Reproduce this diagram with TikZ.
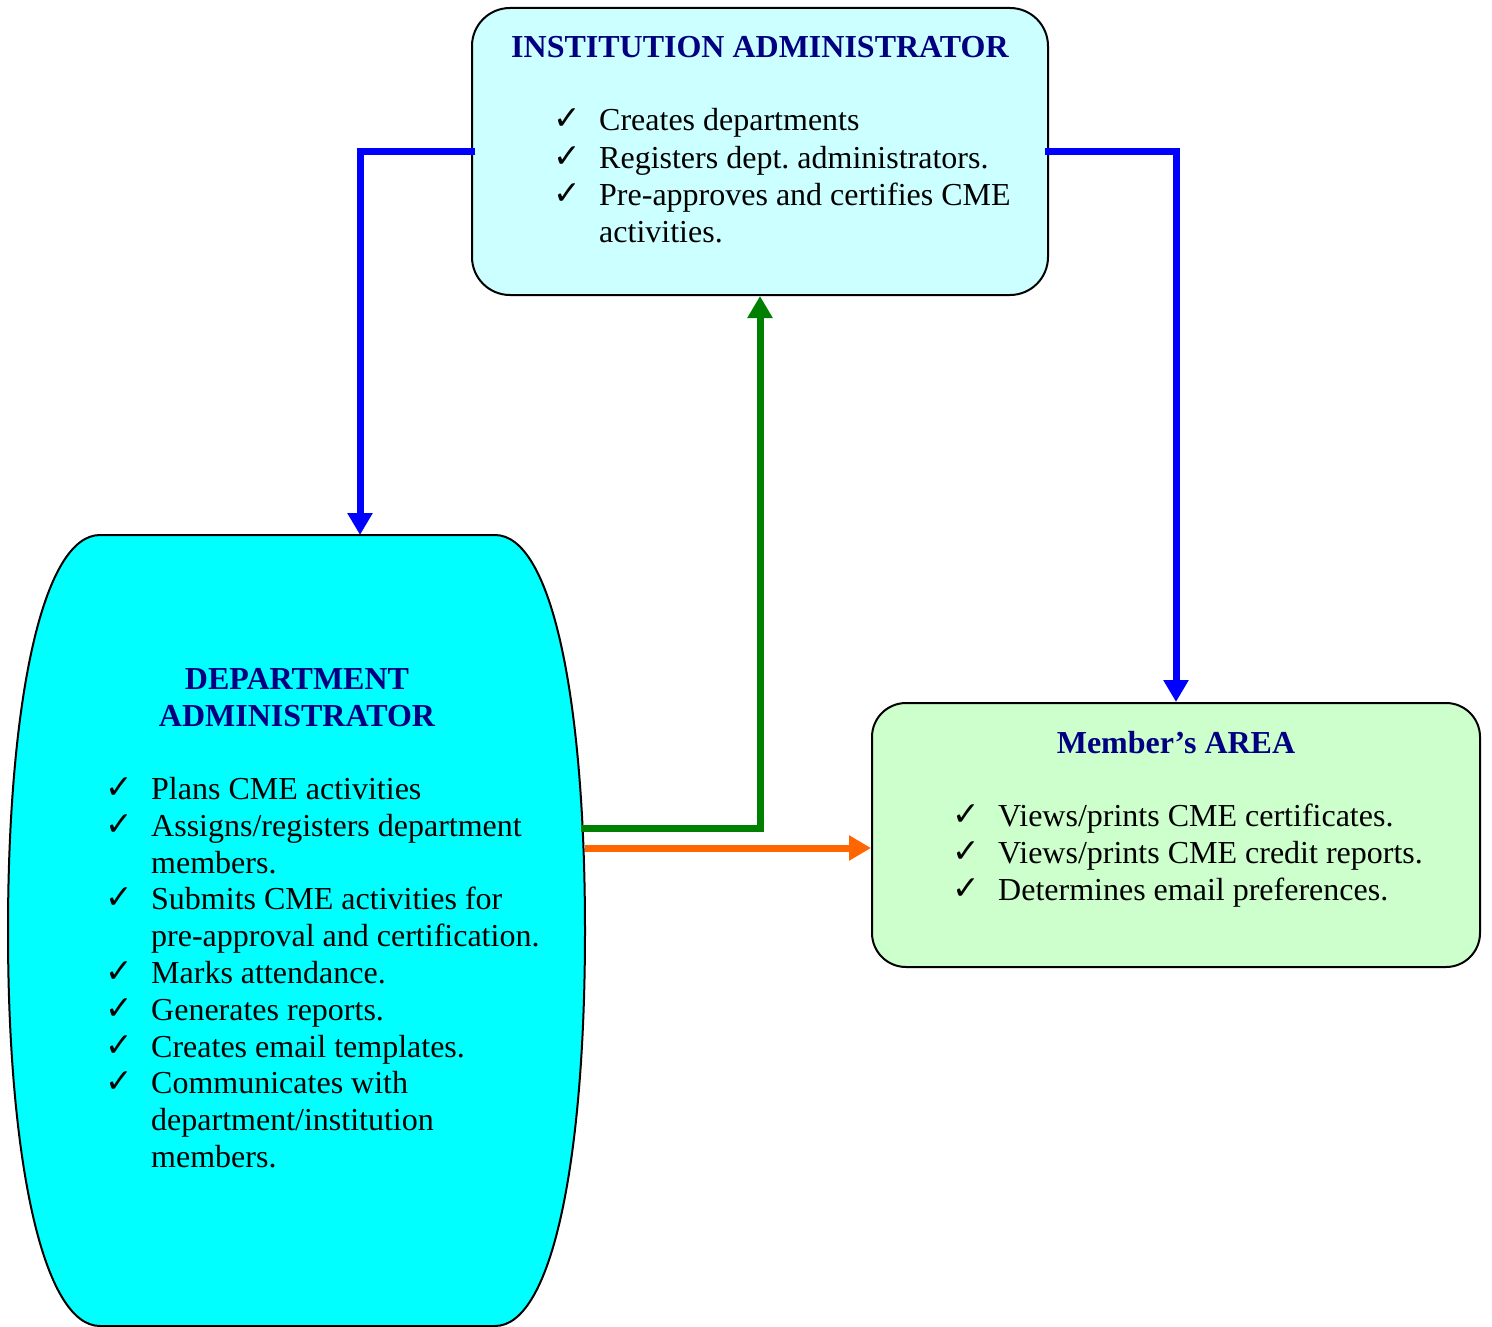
\documentclass[tikz,border=0pt]{standalone}
\usepackage{fontspec}
\setmainfont{Liberation Serif}
\newfontfamily\ckfont{DejaVu Sans}
\usetikzlibrary{arrows.meta}
\frenchspacing
\definecolor{navyt}{HTML}{000080}
\definecolor{instfill}{HTML}{CCFFFF}
\definecolor{deptfill}{HTML}{00FFFF}
\definecolor{memfill}{HTML}{CCFFCC}
\definecolor{arrblue}{HTML}{0000FF}
\definecolor{arrgreen}{HTML}{008000}
\definecolor{arrorange}{HTML}{FF6600}
\newcommand\ckitem[1]{\makebox[46pt][l]{\raisebox{1pt}{\ckfont\bfseries\fontsize{33}{37}\selectfont ✓}}#1}
\tikzset{
  boxstyle/.style={draw=black, line width=2pt, rounded corners=38pt, inner sep=0pt},
  titletext/.style={font=\fontsize{32}{37}\selectfont\bfseries, text=navyt, inner sep=0pt, anchor=base},
  itemtext/.style={font=\fontsize{32}{37}\selectfont, text=black, inner sep=0pt, anchor=base west},
  conn/.style={line width=7pt},
  tip/.style={-{Triangle[length=22pt,width=24pt]}},
}
\begin{document}
\begin{tikzpicture}[x=1pt,y=-1pt]
\useasboundingbox (0,0) rectangle (1492,1327);
% boxes
\node[boxstyle, fill=instfill, minimum width=576pt, minimum height=287pt] (inst) at (760,151.5) {};
\node[boxstyle, fill=memfill, minimum width=608pt, minimum height=264pt, rounded corners=34pt] (mem) at (1176,835) {};
\draw[fill=deptfill, draw=black, line width=2pt]
  (100,535) -- (495,535) .. controls (552,535) and (585,700) .. (585,931)
  .. controls (585,1160) and (552,1326) .. (495,1326) -- (100,1326)
  .. controls (43,1326) and (8,1160) .. (8,931)
  .. controls (8,700) and (43,535) .. (100,535) -- cycle;
\coordinate (dtop) at (360,535);
\coordinate (dgreen) at (581,828);
\coordinate (dorange) at (585,848);
% institution text
\node[titletext] (instt) at (760,58) {INSTITUTION ADMINISTRATOR};
\node[itemtext] (i1) at (553,131) {\ckitem{Creates departments}};
\node[itemtext] (i2) at (553,168) {\ckitem{Registers dept. administrators.}};
\node[itemtext] (i3) at (553,205) {\ckitem{Pre-approves and certifies CME}};
\node[itemtext] (i4) at (599,242) {activities.};
% department text
\node[titletext] (dt1) at (297,689) {DEPARTMENT};
\node[titletext] (dt2) at (297,726) {ADMINISTRATOR};
\node[itemtext] (d1) at (105,799) {\ckitem{Plans CME activities}};
\node[itemtext] (d2) at (105,836) {\ckitem{Assigns/registers department}};
\node[itemtext] (d3) at (151,873) {members.};
\node[itemtext] (d4) at (105,909) {\ckitem{Submits CME activities for}};
\node[itemtext] (d5) at (151,946) {pre-approval and certification.};
\node[itemtext] (d6) at (105,983) {\ckitem{Marks attendance.}};
\node[itemtext] (d7) at (105,1020) {\ckitem{Generates reports.}};
\node[itemtext] (d8) at (105,1057) {\ckitem{Creates email templates.}};
\node[itemtext] (d9) at (105,1093) {\ckitem{Communicates with}};
\node[itemtext] (d10) at (151,1130) {department/institution};
\node[itemtext] (d11) at (151,1167) {members.};
% member text
\node[titletext] (mt) at (1176,753) {Member’s AREA};
\node[itemtext] (m1) at (952,826) {\ckitem{Views/prints CME certificates.}};
\node[itemtext] (m2) at (952,863) {\ckitem{Views/prints CME credit reports.}};
\node[itemtext] (m3) at (952,900) {\ckitem{Determines email preferences.}};
% connectors
\draw[conn, arrblue, tip] ([xshift=4pt]inst.west) -| (dtop);
\draw[conn, arrblue, tip] ([xshift=-4pt]inst.east) -| (mem.north);
\draw[conn, arrgreen, tip] (dgreen) -| (inst.south);
\draw[conn, arrorange, tip] (dorange) -- (mem.west |- dorange);
\end{tikzpicture}
\end{document}
